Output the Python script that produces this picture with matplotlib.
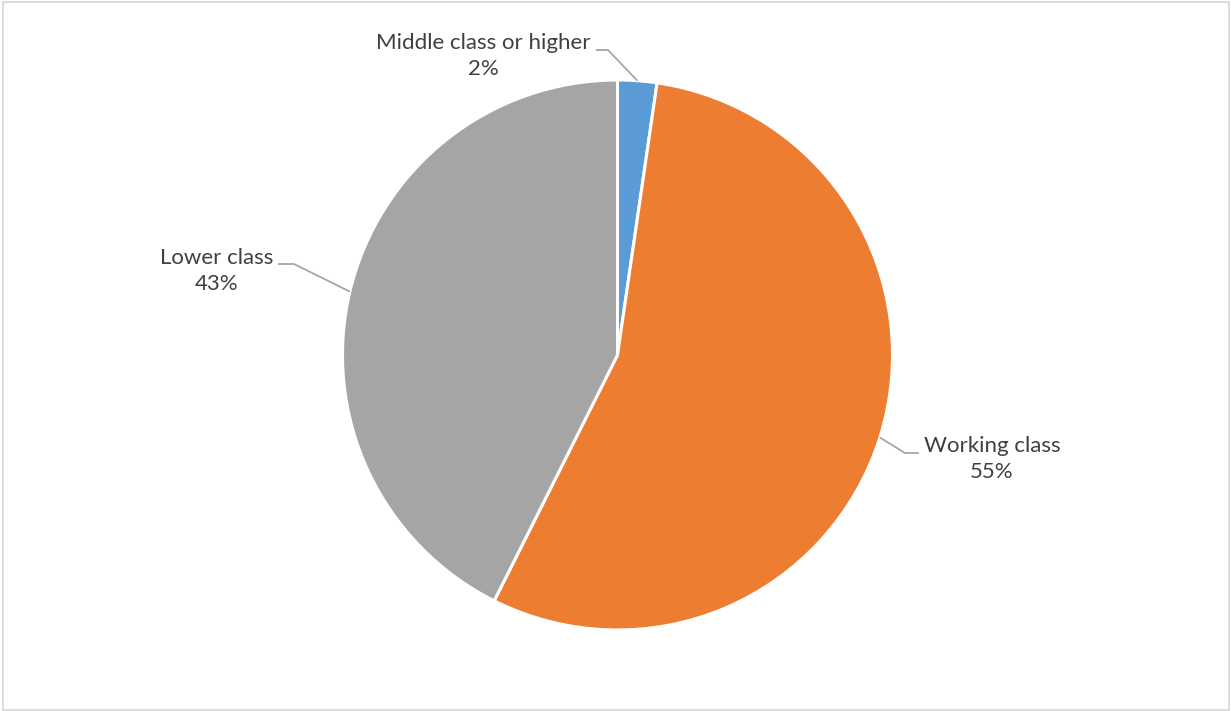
import numpy as np
import matplotlib.pyplot as plt
from matplotlib.patches import Rectangle

labels = ["Middle class or higher", "Working class", "Lower class"]
values = [2.3, 55.1, 42.6]
colors = ["#5B9BD5", "#ED7D31", "#A5A5A5"]

# label box centres (pixels, y from top) and leader elbow points
label_pos = [(483, 56), (992, 459), (217, 271)]
elbows = [[(596, 50), (608, 50)], [(919, 453), (905, 453)], [(278, 264), (294, 264)]]

W, H = 1231, 711
fig = plt.figure(figsize=(W / 100, H / 100), dpi=100)
ax = fig.add_axes([0, 0, 1, 1])

cx, cy, r = 617.5, H - 355, 275
wedges, _ = ax.pie(values, colors=colors, startangle=90, counterclock=False,
                   center=(cx, cy), radius=r, frame=True,
                   wedgeprops=dict(edgecolor="white", linewidth=2.2))
ax.set_xlim(0, W)
ax.set_ylim(0, H)
ax.axis("off")

for w, lab, v, (tx, ty), el in zip(wedges, labels, values, label_pos, elbows):
    mid = np.deg2rad((w.theta1 + w.theta2) / 2)
    px, py = cx + r * np.cos(mid), cy + r * np.sin(mid)
    xs = [el[0][0], el[1][0], px]
    ys = [H - el[0][1], H - el[1][1], py]
    ax.plot(xs, ys, color="#A6A6A6", lw=1.3, solid_capstyle="butt")
    ax.text(tx, H - ty, f"{lab}\n{round(v):d}%", ha="center", va="center",
            fontsize=16, family="Lato", color="#404040", linespacing=1.32)

fig.patches.append(Rectangle((2.5, 1.5), W - 5, H - 3, transform=None,
                             fill=False, edgecolor="#D9D9D9", lw=1.3))
fig.savefig("out.png", dpi=100)
